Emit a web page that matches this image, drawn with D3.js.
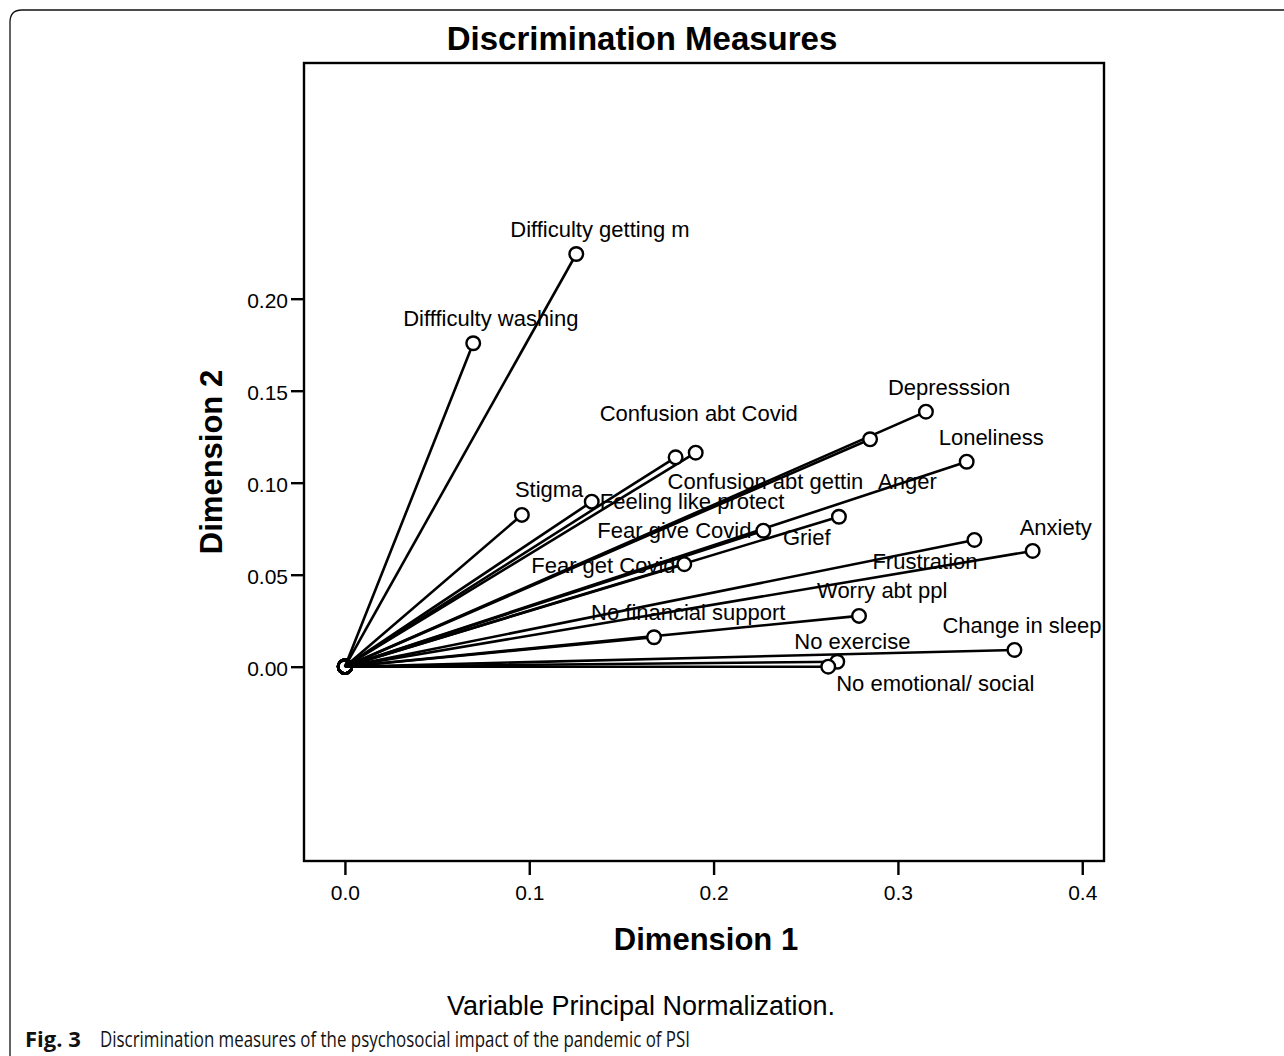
<!DOCTYPE html>
<html>
<head>
<meta charset="utf-8">
<script src="https://cdn.jsdelivr.net/npm/d3@7"></script>
<style>
  html, body { margin: 0; padding: 0; background: #fff; }
  svg { display: block; }
</style>
</head>
<body>
<svg id="chart" width="1284" height="1056"></svg>
<script>
// ---- data ----
const variables = [
  "Difficulty getting m", "Diffficulty washing", "Stigma", "Feeling like protect",
  "Confusion abt Covid", "Confusion abt gettin", "Depresssion", "Anger",
  "Loneliness", "Grief", "Fear give Covid", "Fear get Covid", "Frustration",
  "Anxiety", "Worry abt ppl", "No financial support", "Change in sleep",
  "No exercise", "No emotional/ social"
];
const dimension1 = [
  0.1255, 0.0696, 0.0960, 0.1339, 0.1903, 0.1794, 0.3152, 0.2849,
  0.3373, 0.2680, 0.2270, 0.1841, 0.3415, 0.3731, 0.2789, 0.1677,
  0.3632, 0.2671, 0.2622
];
const dimension2 = [
  0.2243, 0.1758, 0.0825, 0.0897, 0.1163, 0.1138, 0.1386, 0.1236,
  0.1114, 0.0815, 0.0739, 0.0557, 0.0689, 0.0629, 0.0276, 0.0160,
  0.0091, 0.0027, 0.0000
];
const xTicks = [0.0, 0.1, 0.2, 0.3, 0.4];
const yTicks = [0.00, 0.05, 0.10, 0.15, 0.20];

// ---- layout (label offsets in px relative to point) ----
const labelOffsets = [
  [-66, -17], [-70, -17], [-7, -18], [8, 7],
  [-96, -32], [-8, 32], [-38, -17], [8, 50],
  [-28, -17], [-56, 28], [-166, 7], [-153, 9], [-102, 29],
  [-13, -16], [-42, -18], [-63, -17], [-72, -17],
  [-43, -13], [8, 24]
];

const svg = d3.select("#chart");
const font = "'Liberation Sans', Arial, sans-serif";

// outer frame
svg.append("path")
  .attr("d", "M10,1056 V22 Q10,10 22,10 H1284")
  .attr("fill", "none").attr("stroke", "#111").attr("stroke-width", 1.3);

const box = { left: 304, right: 1104, top: 63, bottom: 861 };

const x = d3.scaleLinear().domain([-0.0222, 0.4118]).range([box.left, box.right]);
const y = d3.scaleLinear().domain([-0.1056, 0.3281]).range([box.bottom, box.top]);

const data = variables.map((name, i) => ({
  name, d1: dimension1[i], d2: dimension2[i], off: labelOffsets[i]
}));

// axes
const xAxis = d3.axisBottom(x).tickValues(xTicks).tickSize(14).tickPadding(10)
  .tickFormat(d3.format(".1f"));
const yAxis = d3.axisLeft(y).tickValues(yTicks).tickSize(13).tickPadding(3)
  .tickFormat(d3.format(".2f"));

const gx = svg.append("g").attr("transform", `translate(0,${box.bottom})`).call(xAxis);
const gy = svg.append("g").attr("transform", `translate(${box.left},0)`).call(yAxis);
[gx, gy].forEach(g => {
  g.attr("font-family", null).attr("font-size", null);
  g.select(".domain").remove();
  g.selectAll(".tick line").attr("stroke", "#000").attr("stroke-width", 2.4);
  g.selectAll(".tick text").attr("fill", "#000")
    .style("font-family", font).style("font-size", "21px");
});
gy.selectAll(".tick text").attr("dy", "0.44em");

// plot box
svg.append("rect")
  .attr("x", box.left).attr("y", box.top)
  .attr("width", box.right - box.left).attr("height", box.bottom - box.top)
  .attr("fill", "none").attr("stroke", "#000").attr("stroke-width", 2.4);

// lines from origin
const plot = svg.append("g");
plot.selectAll("line.vec").data(data).join("line")
  .attr("class", "vec")
  .attr("x1", x(0)).attr("y1", y(0))
  .attr("x2", d => x(d.d1)).attr("y2", d => y(d.d2))
  .attr("stroke", "#000").attr("stroke-width", 2.6);

// origin circles
plot.selectAll("circle.orig").data(data).join("circle")
  .attr("class", "orig")
  .attr("cx", x(0)).attr("cy", y(0)).attr("r", 6.8)
  .attr("fill", "none").attr("stroke", "#000").attr("stroke-width", 2.6);

// end circles
plot.selectAll("circle.pt").data(data).join("circle")
  .attr("class", "pt")
  .attr("cx", d => x(d.d1)).attr("cy", d => y(d.d2)).attr("r", 6.8)
  .attr("fill", "#fff").attr("stroke", "#000").attr("stroke-width", 2.4);

// labels
plot.selectAll("text.lbl").data(data).join("text")
  .attr("class", "lbl")
  .attr("x", d => x(d.d1) + d.off[0]).attr("y", d => y(d.d2) + d.off[1])
  .style("font-family", font).style("font-size", "22px").attr("fill", "#000")
  .text(d => d.name);

// titles
svg.append("text").attr("x", 642).attr("y", 50).attr("text-anchor", "middle")
  .style("font-family", font).style("font-size", "33px").style("font-weight", "bold")
  .text("Discrimination Measures");

svg.append("text").attr("x", 706).attr("y", 950).attr("text-anchor", "middle")
  .style("font-family", font).style("font-size", "31px").style("font-weight", "bold")
  .text("Dimension 1");

svg.append("text").attr("transform", "translate(222,462) rotate(-90)")
  .attr("text-anchor", "middle")
  .style("font-family", font).style("font-size", "31px").style("font-weight", "bold")
  .text("Dimension 2");

svg.append("text").attr("x", 641).attr("y", 1015).attr("text-anchor", "middle")
  .style("font-family", font).style("font-size", "27px")
  .text("Variable Principal Normalization.");

// caption
const capFont = "'Open Sans', 'Noto Sans', sans-serif";
svg.append("text").attr("x", 25).attr("y", 1047)
  .style("font-family", capFont).style("font-size", "22px").style("font-weight", "bold")
  .attr("fill", "#111").text("Fig. 3");
svg.append("text").attr("x", 100).attr("y", 1047)
  .style("font-family", capFont).style("font-size", "21px")
  .attr("textLength", 590).attr("lengthAdjust", "spacingAndGlyphs")
  .attr("fill", "#111")
  .text("Discrimination measures of the psychosocial impact of the pandemic of PSI");
</script>
</body>
</html>
